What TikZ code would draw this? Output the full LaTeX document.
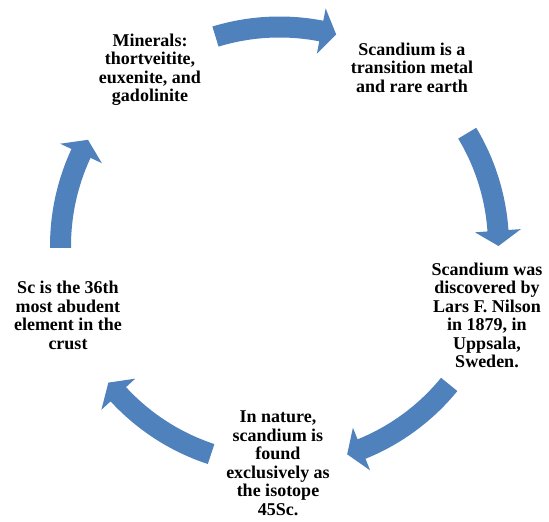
\documentclass[tikz,border=0pt]{standalone}
\usepackage{fontspec}
\setmainfont{Liberation Serif}
\definecolor{cycblue}{HTML}{4F81BD}
\newcommand\cycarr[3]{% tail angle, head-base angle, tip angle
  \fill[cycblue] (#1:229.5) arc[start angle=#1, end angle=#2, radius=229.5]
    -- (#2:242) -- (#3:219) -- (#2:196) -- (#2:208.5)
    arc[start angle=#2, end angle=#1, radius=208.5] -- cycle;}
\tikzset{
  lbl/.style={align=center, inner sep=0pt, font=\fontsize{18}{18.5}\selectfont\bfseries}
}
\begin{document}
\begin{tikzpicture}[x=1pt,y=1pt]
\useasboundingbox (0,0) rectangle (549,522);
\clip (0,0) rectangle (549,522);
\begin{scope}[shift={(279.5,276)}]
  \cycarr{107}{79}{75}
  \cycarr{31}{4}{0}
  \cycarr{-39.2}{-68}{-72}
  \cycarr{-108.2}{-137.4}{-141.4}
  \cycarr{180.5}{155}{151}
\end{scope}
\node[lbl] (minerals) at (150,452.3) {Minerals:\\thortveitite,\\euxenite, and\\gadolinite};
\node[lbl] (metal) at (412,454.5) {Scandium is a\\transition metal\\and rare earth};
\node[lbl] (disc) at (487,206.7) {Scandium was\\discovered by\\Lars F. Nilson\\in 1879, in\\Uppsala,\\Sweden.};
\node[lbl] (iso) at (278,59) {In nature,\\scandium is\\found\\exclusively as\\the isotope\\45Sc.};
\node[lbl] (abund) at (68,206.7) {Sc is the 36th\\most abudent\\element in the\\crust};
\end{tikzpicture}
\end{document}
